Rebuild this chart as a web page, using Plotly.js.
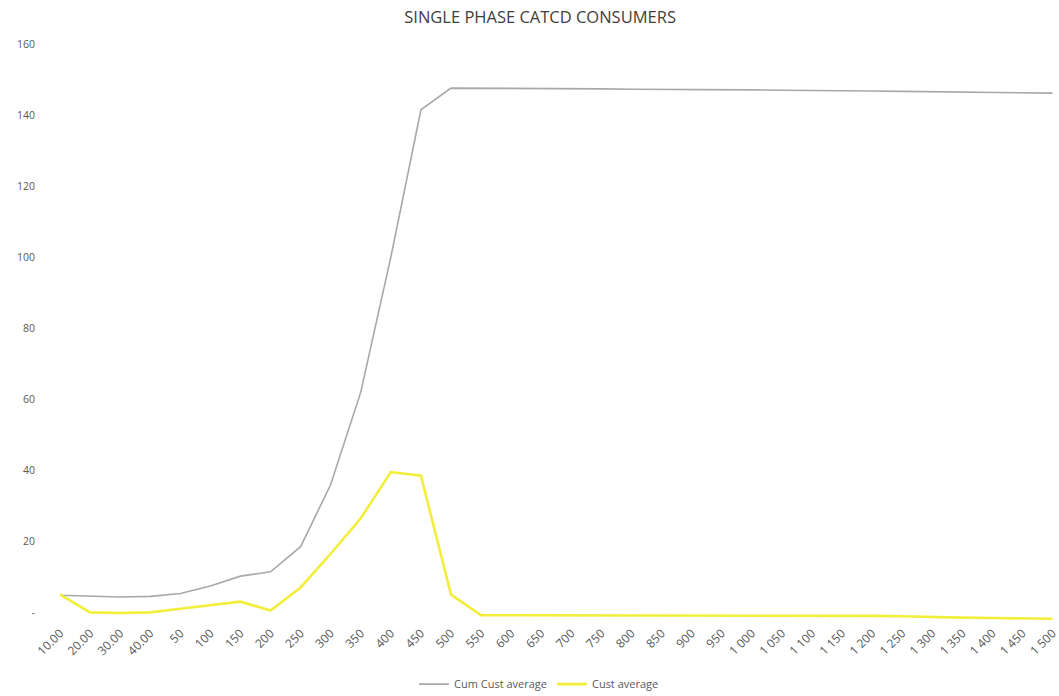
<!DOCTYPE html>
<html>
<head>
<meta charset="utf-8">
<script src="https://cdn.plot.ly/plotly-3.0.1.min.js"></script>
<style>html,body{margin:0;padding:0;background:#fff;}#chart{width:1059px;height:696px;}</style>
</head>
<body>
<div id="chart"></div>
<script>
var categories = ["10.00","20.00","30.00","40.00","50","100","150","200","250","300","350","400","450","500","550","600","650","700","750","800","850","900","950","1 000","1 050","1 100","1 150","1 200","1 250","1 300","1 350","1 400","1 450","1 500"];
var cumCustAverage = [4.8,4.5,4.3,4.5,5.3,7.4,10.2,11.4,18.5,36,62,100,141.5,147.6,147.6,147.5,147.5,147.4,147.4,147.3,147.3,147.2,147.2,147.1,147.0,147.0,146.9,146.8,146.7,146.6,146.5,146.4,146.3,146.2];
var custAverage = [5,0,-0.2,0,1,2,3,0.5,7,16.5,26.5,39.5,38.5,5,-0.8,-0.8,-0.8,-0.8,-0.9,-0.9,-0.9,-0.9,-0.9,-0.9,-1,-1,-1,-1,-1.1,-1.4,-1.5,-1.6,-1.7,-1.8];
var yTickVals = [0,20,40,60,80,100,120,140,160];
var yTickText = ["-","20","40","60","80","100","120","140","160"];

var font = "Open Sans, Liberation Sans, sans-serif";
var traces = [
  {x: categories, y: cumCustAverage, type: "scatter", mode: "lines", name: "Cum Cust average",
   line: {color: "#A8A8A8", width: 1.6}},
  {x: categories, y: custAverage, type: "scatter", mode: "lines", name: "Cust average",
   line: {color: "#F2EE3A", width: 2.6}}
];
var layout = {
  width: 1059, height: 696,
  paper_bgcolor: "#ffffff", plot_bgcolor: "#ffffff",
  margin: {l: 54, r: 5, t: 37, b: 73},
  title: {text: "SINGLE PHASE CATCD CONSUMERS", x: 0.51, xanchor: "center", y: 0.975, yanchor: "middle",
          font: {family: font, size: 16.5, color: "#404040"}},
  xaxis: {type: "category", range: [-0.2, 33.05], showgrid: false, zeroline: false, showline: false,
          tickangle: -45, tickfont: {family: font, size: 12, color: "#595959"}, ticks: "", fixedrange: true},
  yaxis: {range: [-3, 162], tickvals: yTickVals, ticktext: yTickText, showgrid: false, zeroline: false,
          showline: false, ticks: "", ticklabelstandoff: 18,
          tickfont: {family: font, size: 10.5, color: "#595959"}},
  showlegend: true,
  legend: {orientation: "h", x: 0.485, xanchor: "center", y: 0.017, yref: "container", yanchor: "middle",
           font: {family: font, size: 11, color: "#595959"}, itemwidth: 30}
};
Plotly.newPlot("chart", traces, layout, {displayModeBar: false, staticPlot: true});
</script>
</body>
</html>
